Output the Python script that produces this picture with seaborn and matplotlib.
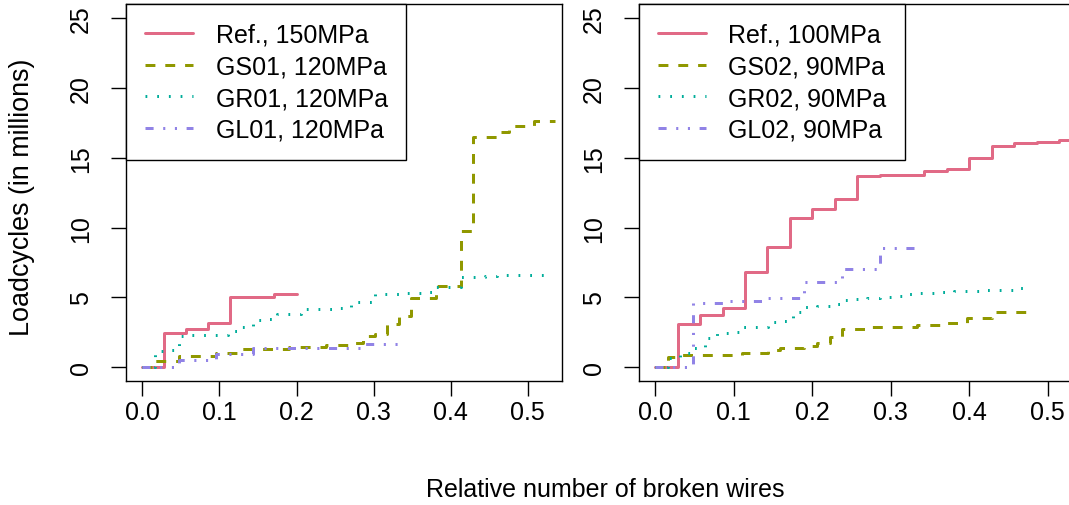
import matplotlib
matplotlib.use("Agg")
import matplotlib.pyplot as plt
import pandas as pd
import seaborn as sns

# ---- data (relative broken wires vs loadcycles in millions) ----
ref150_x = [0, 0.0286, 0.0571, 0.0857, 0.1143, 0.1429, 0.1714, 0.2]
ref150_y = [0, 2.45, 2.74, 3.15, 5.0, 5.05, 5.22, 5.22]

gs01_x = [0, 0.016, 0.048, 0.095, 0.127, 0.19, 0.238, 0.27, 0.286, 0.302,
          0.317, 0.333, 0.349, 0.381, 0.413, 0.429, 0.46, 0.476, 0.508, 0.535]
gs01_y = [0, 0.43, 0.83, 1.0, 1.31, 1.48, 1.62, 1.72, 2.26, 2.35,
          3.1, 3.7, 4.94, 5.84, 9.78, 16.46, 16.82, 17.3, 17.6, 17.6]

gr01_x = [0, 0.016, 0.032, 0.048, 0.063, 0.079, 0.095, 0.111, 0.127, 0.143,
          0.159, 0.175, 0.19, 0.206, 0.222, 0.238, 0.254, 0.27, 0.286, 0.302,
          0.317, 0.333, 0.349, 0.365, 0.381, 0.397, 0.413, 0.429, 0.444, 0.46,
          0.476, 0.492, 0.508, 0.524]
gr01_y = [0, 1.19, 1.23, 2.26, 2.28, 2.30, 2.33, 2.62, 2.86, 3.39,
          3.43, 3.81, 3.83, 4.17, 4.19, 4.20, 4.25, 4.65, 4.68, 5.25,
          5.27, 5.30, 5.33, 5.40, 5.73, 5.78, 6.44, 6.50, 6.55, 6.58,
          6.62, 6.62, 6.62, 6.62]

gl01_x = [0, 0.048, 0.095, 0.143, 0.19, 0.238, 0.286, 0.333]
gl01_y = [0, 0.55, 0.95, 1.36, 1.38, 1.40, 1.64, 1.64]

ref100_x = [0, 0.0286, 0.0571, 0.0857, 0.1143, 0.1429, 0.1714, 0.2, 0.2286, 0.2571,
            0.2857, 0.3143, 0.3429, 0.3714, 0.4, 0.4286, 0.4571, 0.4857, 0.5143, 0.5429]
ref100_y = [0, 3.1, 3.74, 4.24, 6.84, 8.61, 10.69, 11.33, 12.07, 13.66,
            13.77, 13.78, 14.07, 14.19, 14.99, 15.84, 16.05, 16.15, 16.27, 16.3]

gs02_x = [0, 0.016, 0.032, 0.111, 0.143, 0.159, 0.19, 0.206, 0.222, 0.238,
          0.27, 0.333, 0.365, 0.397, 0.429, 0.472]
gs02_y = [0, 0.72, 0.88, 1.02, 1.26, 1.36, 1.55, 1.76, 2.15, 2.74,
          2.86, 3.03, 3.17, 3.5, 3.98, 3.98]

gr02_x = [0, 0.016, 0.032, 0.048, 0.063, 0.079, 0.095, 0.111, 0.127, 0.143,
          0.159, 0.175, 0.19, 0.206, 0.222, 0.238, 0.254, 0.27, 0.286, 0.302,
          0.317, 0.333, 0.349, 0.365, 0.381, 0.397, 0.413, 0.429, 0.444, 0.46,
          0.476]
gr02_y = [0, 0.65, 1.05, 1.38, 2.07, 2.43, 2.55, 2.9, 2.92, 3.22,
          3.35, 3.98, 4.3, 4.38, 4.55, 4.85, 4.9, 4.95, 5.0, 5.1,
          5.25, 5.3, 5.35, 5.4, 5.44, 5.47, 5.5, 5.53, 5.57, 5.65,
          5.65]

gl02_x = [0, 0.048, 0.095, 0.143, 0.19, 0.238, 0.286, 0.333]
gl02_y = [0, 4.6, 4.77, 4.94, 6.08, 7.04, 8.52, 8.52]

left_labels = ["Ref., 150MPa", "GS01, 120MPa", "GR01, 120MPa", "GL01, 120MPa"]
right_labels = ["Ref., 100MPa", "GS02, 90MPa", "GR02, 90MPa", "GL02, 90MPa"]
x_ticks = [0.0, 0.1, 0.2, 0.3, 0.4, 0.5]
y_ticks = [0, 5, 10, 15, 20, 25]

# ---- styling ----
colors = ["#E16A86", "#909800", "#00AD9A", "#9183E6"]
LW = 2.16
styles = ["-", (0, (3.3, 3.3)), (0, (0.6, 3.3)), (0, (2.7, 3.2, 0.7, 3.2, 0.7, 3.2))]
FS = 18

sns.set_style("ticks")
plt.rcParams["font.family"] = ["Liberation Sans", "DejaVu Sans"]
plt.rcParams["text.color"] = "black"
plt.rcParams["axes.labelcolor"] = "black"
plt.rcParams["axes.edgecolor"] = "black"
plt.rcParams["axes.linewidth"] = 1.0
plt.rcParams["xtick.color"] = "black"
plt.rcParams["ytick.color"] = "black"
plt.rcParams["xtick.labelcolor"] = "black"
plt.rcParams["ytick.labelcolor"] = "black"

W, H = 1069, 506
fig = plt.figure(figsize=(W / 100, H / 100), dpi=100)


def px_axes(l, t, r, b):
    return fig.add_axes([l / W, 1 - b / H, (r - l) / W, (b - t) / H])


def draw_panel(ax, series, labels):
    for (xs, ys), lab, col, ls in zip(series, labels, colors, styles):
        df = pd.DataFrame({"x": xs, "y": ys})
        sns.lineplot(data=df, x="x", y="y", ax=ax, color=col, linewidth=LW,
                     linestyle=ls, drawstyle="steps-post", estimator=None,
                     label=lab)
    ax.set_xlim(-0.0208, 0.5447)
    ax.set_ylim(-1, 26)
    ax.set_xticks(x_ticks)
    ax.set_xticklabels([f"{v:.1f}" for v in x_ticks], fontsize=FS, color="black")
    ax.set_yticks(y_ticks)
    ax.set_yticklabels([str(v) for v in y_ticks], fontsize=FS, color="black",
                       rotation=90, va="center")
    ax.tick_params(axis="both", direction="out", length=10.8, width=1.0,
                   color="black")
    ax.tick_params(axis="x", pad=2.5)
    ax.tick_params(axis="y", pad=13)
    ax.set_xlabel("")
    ax.set_ylabel("")
    for sp in ax.spines.values():
        sp.set_visible(True)
        sp.set_color("black")
        sp.set_linewidth(1.0)
    leg = ax.legend(loc="upper left", bbox_to_anchor=(0, 1), borderaxespad=0,
                    fontsize=FS, frameon=True, fancybox=False, framealpha=1,
                    edgecolor="black", handlelength=1.92, handletextpad=0.92,
                    borderpad=0.74, labelspacing=0.31)
    leg.get_frame().set_linewidth(1.0)
    for t in leg.get_texts():
        t.set_color("black")


ax1 = px_axes(126.3, 5.1, 562.3, 382.3)
ax2 = px_axes(639.0, 5.1, 1082.9, 382.3)

draw_panel(ax1, [(ref150_x, ref150_y), (gs01_x, gs01_y), (gr01_x, gr01_y),
                 (gl01_x, gl01_y)], left_labels)
draw_panel(ax2, [(ref100_x, ref100_y), (gs02_x, gs02_y), (gr02_x, gr02_y),
                 (gl02_x, gl02_y)], right_labels)

fig.text(605 / W, 1 - 490 / H, "Relative number of broken wires",
         ha="center", va="center", fontsize=FS)
fig.text(22 / W, 1 - 197 / H, "Loadcycles (in millions)",
         ha="center", va="center", rotation=90, fontsize=19.4)

fig.savefig("out.png", dpi=100)
